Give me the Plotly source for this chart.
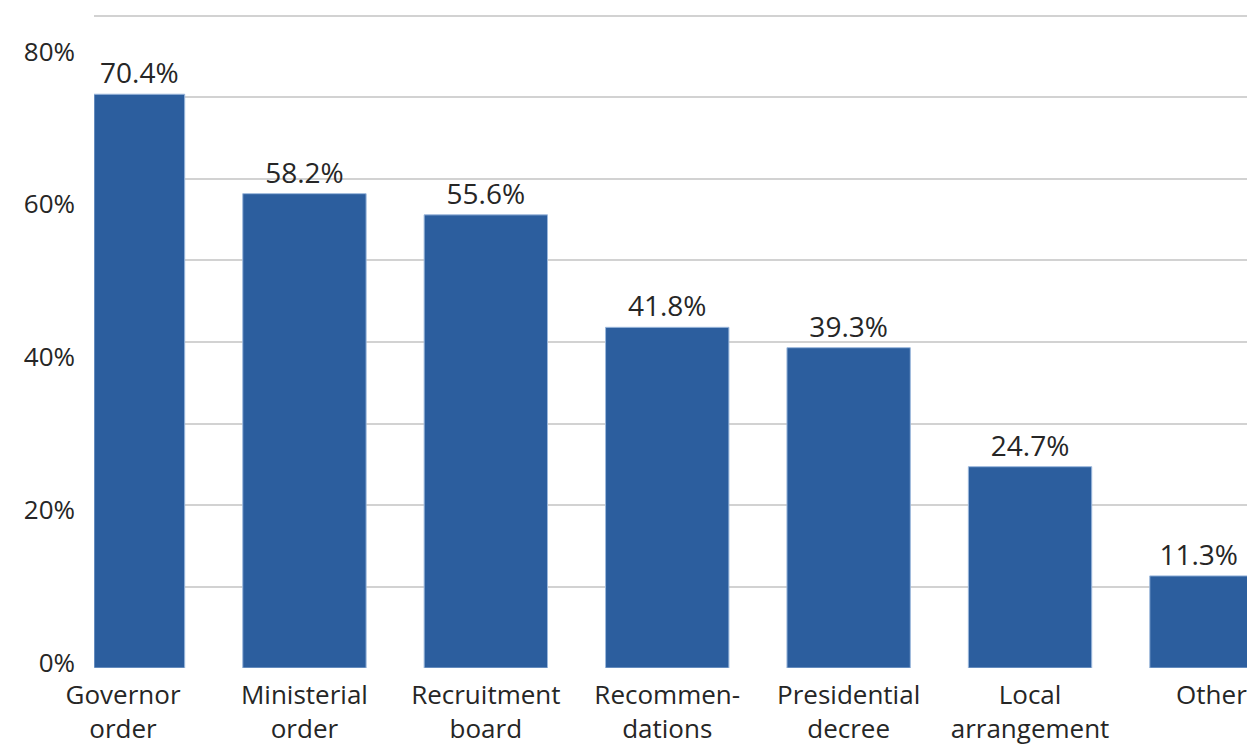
import plotly.graph_objects as go

# Share of respondents by appointment mechanism
categories = [
    "Governor<br>order",
    "Ministerial<br>order",
    "Recruitment<br>board",
    "Recommen-<br>dations",
    "Presidential<br>decree",
    "Local<br>arrangement",
    "Other",
]
values = [70.4, 58.2, 55.6, 41.8, 39.3, 24.7, 11.3]
value_labels = ["70.4%", "58.2%", "55.6%", "41.8%", "39.3%", "24.7%", "11.3%"]
tick_values = [0, 20, 40, 60, 80]
tick_labels = ["0%", "20%", "40%", "60%", "80%"]

FONT = "Open Sans"
TEXT_COLOR = "#262626"
BAR_COLOR = "#2c5e9e"

x_pos = list(range(len(categories)))
# Outer bars are trimmed to the plotting area's edges
bar_width = [0.5, 0.68, 0.68, 0.68, 0.68, 0.68, 0.54]
bar_offset = [-0.16, -0.34, -0.34, -0.34, -0.34, -0.34, -0.34]

fig = go.Figure()
fig.add_trace(
    go.Bar(
        x=x_pos,
        y=values,
        width=bar_width,
        offset=bar_offset,
        marker=dict(color=BAR_COLOR, line=dict(color="#9cb8dc", width=1)),
        text=value_labels,
        textposition="outside",
        textfont=dict(family=FONT, size=28, color=TEXT_COLOR),
        cliponaxis=False,
        hoverinfo="skip",
    )
)
# Invisible trace carrying the percentage axis labels
fig.add_trace(
    go.Scatter(x=[0], y=[0], yaxis="y2", mode="markers",
               marker=dict(opacity=0), showlegend=False, hoverinfo="skip")
)

fig.update_layout(
    width=1247,
    height=744,
    margin=dict(l=94, r=0, t=8, b=76),
    paper_bgcolor="white",
    plot_bgcolor="white",
    showlegend=False,
    xaxis=dict(
        range=[-0.16, 6.196],
        tickmode="array",
        tickvals=x_pos,
        ticktext=categories,
        tickfont=dict(family=FONT, size=26, color=TEXT_COLOR),
        showgrid=False,
        zeroline=False,
        showline=False,
        ticks="",
        ticklabelstandoff=9,
        ticklabeloverflow="allow",
        automargin=False,
    ),
    yaxis=dict(
        range=[0, 80.98],
        dtick=10,
        showticklabels=False,
        showgrid=True,
        gridcolor="#d2d2d2",
        gridwidth=1.5,
        zeroline=False,
        showline=False,
        ticks="",
        automargin=False,
    ),
    yaxis2=dict(
        overlaying="y",
        side="left",
        anchor="x",
        range=[-0.655, 85.69],
        tickmode="array",
        tickvals=tick_values,
        ticktext=tick_labels,
        tickfont=dict(family=FONT, size=26, color=TEXT_COLOR),
        showgrid=False,
        zeroline=False,
        showline=False,
        ticks="",
        ticklabelstandoff=18,
        automargin=False,
    ),
)

fig.write_html("out.html")
